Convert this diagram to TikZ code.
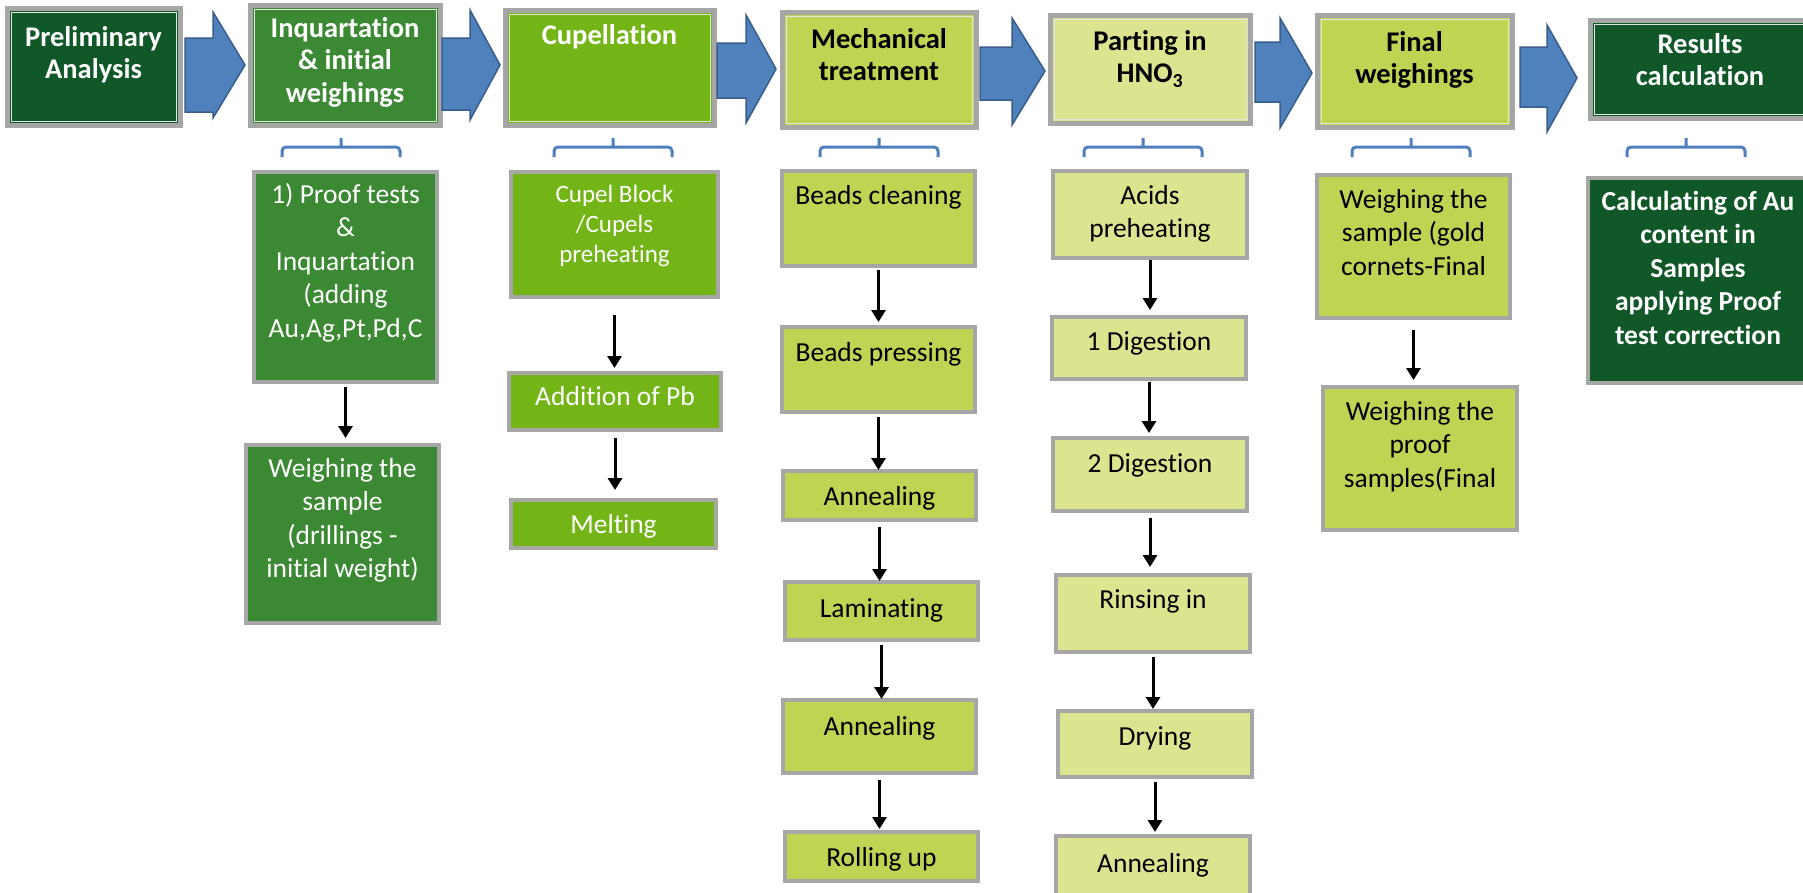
\documentclass[tikz,border=0pt]{standalone}
\usepackage{fontspec}
\setmainfont{Carlito}[Ligatures=NoCommon]
\usetikzlibrary{arrows.meta}
\definecolor{darkg}{RGB}{17,88,40}
\definecolor{medg}{RGB}{60,137,52}
\definecolor{brg}{RGB}{115,181,22}
\definecolor{ylg}{RGB}{192,211,83}
\definecolor{paleg}{RGB}{221,228,143}
\definecolor{boxgray}{RGB}{166,166,166}
\definecolor{arrowblue}{RGB}{79,129,189}
\definecolor{arrowedge}{RGB}{56,93,138}
\definecolor{braceblue}{RGB}{80,127,190}
\newcommand\bx[4]{\parbox[c][#2][t]{#1}{\centering\rule{0pt}{#3}#4\par}}
\newcommand\barrow[8]{\draw[blockarrow] (#1,#4) -- (#2,#4) -- (#2,#6) -- (#3,#8) -- (#2,#7) -- (#2,#5) -- (#1,#5) -- cycle;}
\tikzset{
  box/.style={draw=boxgray, line width=3.5pt, inner sep=0pt, outer sep=0pt, anchor=north west,
    font=\fontsize{27.5pt}{33.5pt}\selectfont},
  topbox/.style={box, line width=5pt, font=\bfseries\fontsize{28.5pt}{32.5pt}\selectfont},
  fdark/.style={fill=darkg, text=white},
  fmed/.style={fill=medg, text=white},
  fbr/.style={fill=brg, text=white},
  fyl/.style={fill=ylg, text=black},
  fpale/.style={fill=paleg, text=black},
  innerline/.style={draw=white!80!gray, line width=1pt},
  flow/.style={line width=3pt, -{Triangle[width=14pt,length=12pt]}},
  brace/.style={draw=braceblue, line width=3pt, rounded corners=4pt},
  blockarrow/.style={fill=arrowblue, draw=arrowedge, line width=1.5pt, line join=miter}
}
\begin{document}
\begin{tikzpicture}[x=1pt,y=-1pt]
\useasboundingbox (0,0) rectangle (1803,892);
\fill[white] (0,0) rectangle (1803,892);

% ---- top row
\node[topbox,fdark] (prelim) at (7,8)    {\bx{173pt}{117pt}{38pt}{Preliminary\\Analysis}};
\node[topbox,fmed]  (inq)    at (250,5)  {\bx{190pt}{120pt}{32pt}{Inquartation\\\& initial\\weighings}};
\node[topbox,fbr]   (cup)    at (505,10) {\bx{209pt}{115pt}{34pt}{Cupellation}};
\node[topbox,fyl]   (mech)   at (782,12) {\bx{194pt}{115pt}{36pt}{Mechanical\\treatment}};
\node[topbox,fpale] (part)   at (1050,15){\bx{200pt}{108pt}{35pt}{Parting in\\HNO\textsubscript{3}}};
\node[topbox,fyl]   (fin)    at (1317,15){\bx{195pt}{112pt}{36pt}{Final\\weighings}};
\node[topbox,fdark] (res)    at (1590,20){\bx{220pt}{98pt}{33pt}{Results\\calculation}};
\foreach \n in {prelim,inq,cup,mech,part,fin,res}
  \draw[innerline] ([shift={(4,4)}]\n.north west) rectangle ([shift={(-4,-4)}]\n.south east);

% ---- block arrows
\barrow{185}{213}{245}{38}{112}{12}{118}{65}
\barrow{442}{470}{500}{38}{110}{10}{120}{65}
\barrow{717}{746}{776}{43}{98}{15}{123}{69}
\barrow{980}{1012}{1045}{47}{100}{18}{125}{71}
\barrow{1255}{1280}{1312}{42}{102}{18}{128}{73}
\barrow{1520}{1547}{1577}{47}{107}{25}{132}{78}

% ---- braces
\foreach \cx in {341,613,879,1143,1411,1686}
  \draw[brace] (\cx-59,157) -- (\cx-59,147) -- (\cx+59,147) -- (\cx+59,157) (\cx,147) -- (\cx,138);

% ---- inquartation column
\node[box,fmed] (proof) at (254,172) {\bx{183pt}{210pt}{31pt}{1) Proof tests\\\&\\Inquartation\\(adding\\Au,Ag,Pt,Pd,C}};
\node[box,fmed] (weigh) at (246,445) {\bx{193pt}{178pt}{32pt}{Weighing the\\sample\\(drillings -\\initial weight)}};
\draw[flow, shorten <=5pt, shorten >=7pt] (proof.south) -- (proof.south |- weigh.north);

% ---- cupellation column
\node[box,fbr,font=\fontsize{25pt}{30pt}\selectfont] (cupel) at (511,172) {\bx{207pt}{125pt}{30pt}{Cupel Block\\/Cupels\\preheating}};
\node[box,fbr] (addpb) at (509,373) {\bx{212pt}{57pt}{32pt}{Addition of Pb}};
\node[box,fbr] (melt)  at (511,500) {\bx{205pt}{48pt}{33pt}{Melting}};
\draw[flow, shorten <=18pt, shorten >=5pt] (cupel.south) -- (cupel.south |- addpb.north);
\draw[flow, shorten <=8pt, shorten >=10pt] (addpb.south) -- (addpb.south |- melt.north);

% ---- mechanical column
\node[box,fyl] (bc)   at (782,171) {\bx{193pt}{95pt}{33pt}{Beads cleaning}};
\node[box,fyl] (bp)   at (782,327) {\bx{193pt}{85pt}{34pt}{Beads pressing}};
\node[box,fyl] (an1)  at (783,471) {\bx{193pt}{49pt}{34pt}{Annealing}};
\node[box,fyl] (lam)  at (785,582) {\bx{193pt}{58pt}{35pt}{Laminating}};
\node[box,fyl] (an2)  at (783,700) {\bx{193pt}{73pt}{35pt}{Annealing}};
\node[box,fyl] (roll) at (785,832) {\bx{193pt}{49pt}{34pt}{Rolling up}};
\draw[flow, shorten <=4pt, shorten >=5pt] (bc.south)  -- (bc.south |- bp.north);
\draw[flow, shorten <=5pt, shorten >=1pt] (bp.south)  -- (bp.south |- an1.north);
\draw[flow, shorten <=7pt, shorten >=1pt] (an1.south) -- (an1.south |- lam.north);
\draw[flow, shorten <=5pt, shorten >=1pt] (lam.south) -- (lam.south |- an2.north);
\draw[flow, shorten <=7pt, shorten >=3pt] (an2.south) -- (an2.south |- roll.north);

% ---- parting column
\node[box,fpale] (acid) at (1053,171) {\bx{194pt}{87pt}{33pt}{Acids\\preheating}};
\node[box,fpale] (d1)   at (1052,317) {\bx{194pt}{62pt}{33pt}{1 Digestion}};
\node[box,fpale] (d2)   at (1053,438) {\bx{194pt}{73pt}{34pt}{2 Digestion}};
\node[box,fpale] (rin)  at (1056,575) {\bx{194pt}{77pt}{33pt}{Rinsing in}};
\node[box,fpale] (dry)  at (1058,711) {\bx{194pt}{66pt}{34pt}{Drying}};
\node[box,fpale] (an3)  at (1056,836) {\bx{194pt}{70pt}{36pt}{Annealing}};
\draw[flow, shorten <=2pt, shorten >=7pt] (acid.south) -- (acid.south |- d1.north);
\draw[flow, shorten <=3pt, shorten >=5pt] (d1.south)   -- (d1.south |- d2.north);
\draw[flow, shorten <=7pt, shorten >=8pt] (d2.south)   -- (d2.south |- rin.north);
\draw[flow, shorten <=5pt, shorten >=2pt] (rin.south)  -- (rin.south |- dry.north);
\draw[flow, shorten <=5pt, shorten >=4pt] (dry.south)  -- (dry.south |- an3.north);

% ---- final weighings column
\node[box,fyl] (ws) at (1317,175) {\bx{193pt}{143pt}{33pt}{Weighing the\\sample (gold\\cornets-Final}};
\node[box,fyl] (wp) at (1323,387) {\bx{194pt}{143pt}{33pt}{Weighing the\\proof\\samples(Final}};
\draw[flow, shorten <=12pt, shorten >=7pt] (ws.south) -- (ws.south |- wp.north);

% ---- results column
\node[box,fdark,font=\bfseries\fontsize{27.5pt}{33.5pt}\selectfont] (calc) at (1588,178) {\bx{220pt}{205pt}{32pt}{Calculating of Au\\content in\\Samples\\applying Proof\\test correction}};
\end{tikzpicture}
\end{document}
